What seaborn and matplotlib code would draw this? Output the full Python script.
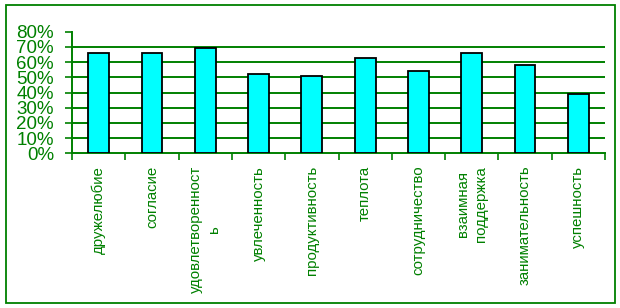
import matplotlib
matplotlib.use("Agg")
import matplotlib.pyplot as plt
import seaborn as sns
import pandas as pd
from matplotlib.patches import Rectangle

categories = ["дружелюбие", "согласие", "удовлетворенност\nь", "увлеченность",
              "продуктивность", "теплота", "сотрудничество", "взаимная\nподдержка",
              "занимательность", "успешность"]
values = [0.66, 0.66, 0.69, 0.52, 0.51, 0.625, 0.54, 0.66, 0.58, 0.39]
yticks = [0.0, 0.1, 0.2, 0.3, 0.4, 0.5, 0.6, 0.7, 0.8]
ytick_labels = ["0%", "10%", "20%", "30%", "40%", "50%", "60%", "70%", "80%"]

sns.set_style("white")
plt.rcParams['font.family'] = ['Liberation Sans', 'DejaVu Sans']

GREEN = "#008000"
fig = plt.figure(figsize=(6.2, 3.08), dpi=100)
fig.patch.set_facecolor("white")
ax = fig.add_axes([72/620, 1-153.3/308, (605-72)/620, (153.3-31.7)/308])

df = pd.DataFrame({"cat": categories, "val": values})
sns.barplot(data=df, x="cat", y="val", color="#00FFFF", edgecolor="black",
            linewidth=1.3, width=0.39, saturation=1, ax=ax, zorder=3)

ax.set_ylim(0, 0.8)
ax.set_xlim(-0.5, len(categories) - 0.5)
for y in yticks[1:-1]:
    ax.axhline(y, color=GREEN, lw=1.4, zorder=1)

ax.set_yticks(yticks)
ax.set_yticklabels(ytick_labels)
ax.tick_params(axis="y", direction="out", length=5, width=1.2, color=GREEN,
               labelcolor=GREEN, labelsize=13.5, pad=8, left=True)

# x ticks at category boundaries, labels at centers
ax.set_xticks([i - 0.5 for i in range(len(categories) + 1)], minor=False)
ax.set_xticklabels([""] * (len(categories) + 1))
ax.tick_params(axis="x", which="major", direction="out", length=5, width=1.2,
               color=GREEN, bottom=True)
ax.set_xticks(range(len(categories)), minor=True)
ax.set_xticklabels(categories, minor=True, rotation=90, va="top", ha="center",
                   multialignment="center", linespacing=1.4)
ax.tick_params(axis="x", which="minor", length=0, pad=9, labelcolor=GREEN,
               labelsize=10.8)

ax.set_xlabel("")
ax.set_ylabel("")
for s in ["top", "right"]:
    ax.spines[s].set_visible(False)
for s in ["left", "bottom"]:
    ax.spines[s].set_color(GREEN)
    ax.spines[s].set_linewidth(1.4)

fig.patches.append(Rectangle((5.5/620, 1-302.7/308), (614.7-5.5)/620, (302.7-5.3)/308,
                             transform=fig.transFigure, fill=False,
                             edgecolor=GREEN, lw=1.3))

fig.savefig("out.png", dpi=100)
